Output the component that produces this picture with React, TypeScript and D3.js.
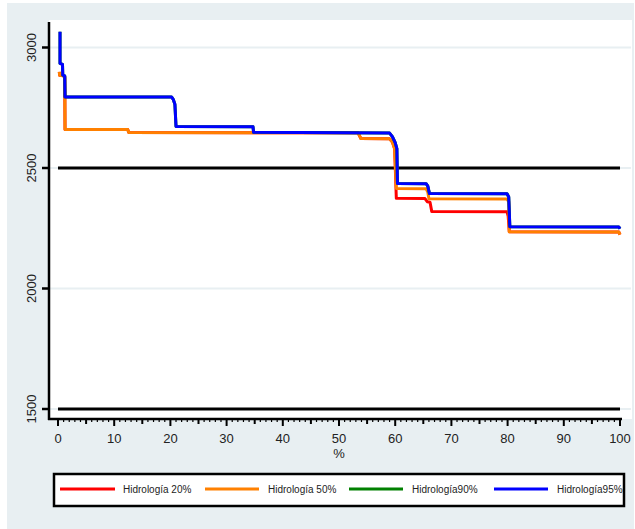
import React from "react";
import * as d3 from "d3";

const yTicks = [1500, 2000, 2500, 3000];
const xTicks = [0, 10, 20, 30, 40, 50, 60, 70, 80, 90, 100];
const refLines = [1500, 2500];

const hidro95: [number, number][] = [
  [0.36, 3065], [0.36, 2934], [0.8, 2930], [0.85, 2885], [1.2, 2882], [1.25, 2795],
  [20.2, 2795], [20.5, 2785], [20.8, 2765], [21.0, 2672], [34.7, 2671], [34.8, 2648],
  [59.0, 2645], [59.5, 2630], [60.0, 2605], [60.3, 2580], [60.4, 2436], [65.5, 2435],
  [65.8, 2425], [66.1, 2394], [79.9, 2393], [80.2, 2380], [80.4, 2256], [99.8, 2255], [100, 2248],
];
const hidro90: [number, number][] = hidro95.map((d) => [d[0], d[1]]);
const hidro50: [number, number][] = [
  [0.23, 2899], [0.3, 2885], [0.9, 2883], [1.2, 2878], [1.25, 2660], [12.4, 2660],
  [12.6, 2647], [53.4, 2646], [53.9, 2622], [59.0, 2621], [59.5, 2608], [59.9, 2580],
  [60.2, 2415], [65.5, 2414], [65.8, 2400], [66.0, 2372], [79.9, 2371], [80.2, 2360],
  [80.3, 2235], [99.8, 2234], [100, 2224],
];
const hidro20: [number, number][] = [
  [0.23, 2899], [0.3, 2885], [0.9, 2883], [1.2, 2878], [1.25, 2660], [12.4, 2660],
  [12.6, 2647], [53.4, 2646], [53.9, 2622], [59.0, 2621], [59.5, 2608], [59.9, 2580],
  [60.2, 2374], [65.3, 2373], [65.7, 2360], [66.2, 2358], [66.5, 2320], [79.9, 2318],
  [80.1, 2300], [80.3, 2235], [99.8, 2234], [100, 2224],
];

const seriesNames = ["Hidrología 20%", "Hidrología 50%", "Hidrología90%", "Hidrología95%"];
const seriesColors = ["#ff0000", "#ff8000", "#008000", "#0000ff"];
const seriesData = [hidro20, hidro50, hidro90, hidro95];

export default function App() {
  const W = 635, H = 529;
  const x = d3.scaleLinear().domain([0, 100]).range([58, 620]);
  const y = d3.scaleLinear().domain([1500, 3000]).range([409, 47.5]);
  const line = d3.line<[number, number]>().x((d) => x(d[0])).y((d) => y(d[1]));
  const minor = d3.range(0, 101, 1);
  const bg = "#e8eff2";
  const font = "Arial, 'Liberation Sans', Helvetica, sans-serif";
  const legendLines = [[60, 115], [205, 259], [349, 403], [494, 548]];
  const legendText = [123, 268, 412, 557];

  return (
    <svg width={W} height={H} style={{ position: "absolute", left: 0, top: 0 }} fontFamily={font}>
      <rect x={0} y={0} width={W} height={H} fill="#ffffff" />
      <rect x={7} y={3} width={627} height={526} fill={bg} />
      <rect x={49} y={20} width={583} height={399} fill="#ffffff" />
      {/* grid */}
      {yTicks.map((t) => (
        <line key={"g" + t} x1={49} x2={631} y1={y(t)} y2={y(t)} stroke={bg} strokeWidth={2} />
      ))}
      {/* reference lines */}
      {refLines.map((t) => (
        <line key={"r" + t} x1={x(0)} x2={x(100)} y1={y(t)} y2={y(t)} stroke="#000" strokeWidth={3} />
      ))}
      {/* series */}
      {seriesData.map((s, i) => (
        <path key={"s" + i} d={line(s) || ""} fill="none" stroke={seriesColors[i]} strokeWidth={3} strokeLinejoin="round" />
      ))}
      {/* y axis */}
      <line x1={49} x2={49} y1={22} y2={420} stroke="#000" strokeWidth={2.5} />
      {yTicks.map((t) => (
        <g key={"yt" + t}>
          <line x1={42} x2={49} y1={y(t)} y2={y(t)} stroke="#000" strokeWidth={2.5} />
          <text transform={`translate(36,${y(t)}) rotate(-90)`} textAnchor="middle" fontSize={13} fill="#222">
            {t}
          </text>
        </g>
      ))}
      {/* x axis */}
      <line x1={48} x2={622} y1={419} y2={419} stroke="#000" strokeWidth={2.5} />
      {minor.map((t) => {
        const len = t % 10 === 0 ? 7 : t % 5 === 0 ? 5 : 3;
        return <line key={"xm" + t} x1={x(t)} x2={x(t)} y1={419} y2={419 + len} stroke="#000" strokeWidth={t % 5 === 0 ? 2 : 1.2} />;
      })}
      {xTicks.map((t) => (
        <text key={"xt" + t} x={x(t)} y={443} textAnchor="middle" fontSize={13} fill="#222">
          {t}
        </text>
      ))}
      <text x={x(50)} y={458} textAnchor="middle" fontSize={13} fill="#222">%</text>
      {/* legend */}
      <rect x={54} y={474} width={570} height={32} fill="#ffffff" stroke="#000" strokeWidth={2.5} />
      {seriesNames.map((n, i) => (
        <g key={"l" + i}>
          <line x1={legendLines[i][0]} x2={legendLines[i][1]} y1={489} y2={489} stroke={seriesColors[i]} strokeWidth={3} />
          <text x={legendText[i]} y={493} fontSize={10} fill="#222">{n}</text>
        </g>
      ))}
    </svg>
  );
}
